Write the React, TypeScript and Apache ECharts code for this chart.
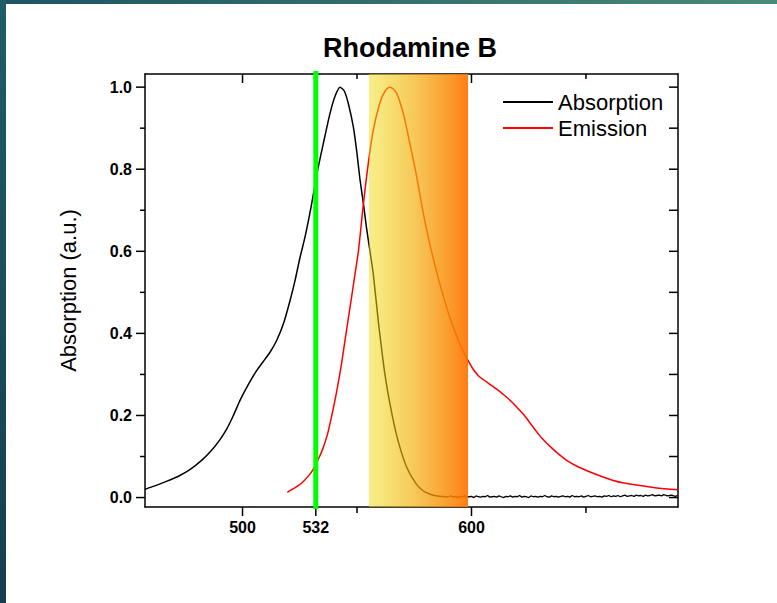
import React, { useEffect, useRef } from "react";
import * as echarts from "echarts";

// Wavelength window (nm) and absorbance window (a.u.)
const X_MIN = 457.4;
const X_MAX = 690.2;
const Y_MIN = -0.023;
const Y_MAX = 1.032;

// Laser line and detection band (nm)
const laserLine = 532;
const bandStart = 555.2;
const bandEnd = 598.5;

// Axis ticks
const wavelengthLabels = [500, 532, 600];
const wavelengthMinor = [550, 650];
const absorbanceLabels = [0, 0.2, 0.4, 0.6, 0.8, 1.0];
const absorbanceMinor = [0.1, 0.3, 0.5, 0.7, 0.9];
const absorbanceAll = [0, 0.1, 0.2, 0.3, 0.4, 0.5, 0.6, 0.7, 0.8, 0.9, 1.0];

// Absorption spectrum: [nm, normalised absorbance]
const absorptionMain: [number, number][] = [
  [457.4, 0.02], [462, 0.029], [467, 0.04], [472, 0.052], [477, 0.068],
  [482, 0.09], [486, 0.112], [490, 0.14], [493, 0.166], [496, 0.2],
  [499, 0.238], [503, 0.28], [506, 0.308], [509, 0.331], [512, 0.354],
  [515, 0.384], [518, 0.426], [520.7, 0.479], [522.9, 0.528], [525.1, 0.585],
  [527.3, 0.635], [530, 0.71], [533, 0.803], [535.3, 0.863], [538.2, 0.936],
  [540.4, 0.978], [542.6, 1.0], [544.5, 0.99], [546.2, 0.96], [548.4, 0.903],
  [550, 0.838], [551.3, 0.775], [552.8, 0.716], [554.2, 0.655], [555.4, 0.61],
  [557.1, 0.545], [559.3, 0.43], [562.2, 0.3], [565.2, 0.205], [568, 0.137],
  [571.7, 0.074], [576, 0.032], [579, 0.016], [582, 0.008], [585, 0.004],
  [589, 0.002], [590, 0.002],
];

// Noisy baseline of the absorption spectrum, one reading per nm from 590 nm
const absorptionTailStart = 590;
const absorptionTail = [
  0.002, 0.004, 0.001, 0.003, 0.0, 0.003, 0.002, 0.004, 0.001, 0.002,
  0.003, 0.0, 0.004, 0.002, 0.001, 0.003, 0.002, 0.005, 0.001, 0.002,
  0.003, 0.001, 0.004, 0.002, 0.0, 0.003, 0.002, 0.004, 0.001, 0.003,
  0.002, 0.005, 0.001, 0.003, 0.002, 0.0, 0.004, 0.002, 0.003, 0.001,
  0.003, 0.002, 0.005, 0.002, 0.001, 0.004, 0.002, 0.003, 0.001, 0.003,
  0.004, 0.002, 0.003, 0.001, 0.005, 0.002, 0.003, 0.002, 0.004, 0.001,
  0.003, 0.005, 0.002, 0.003, 0.004, 0.002, 0.003, 0.001, 0.004, 0.003,
  0.005, 0.002, 0.004, 0.003, 0.005, 0.002, 0.004, 0.006, 0.003, 0.004,
  0.005, 0.003, 0.006, 0.004, 0.005, 0.003, 0.006, 0.004, 0.005, 0.007,
  0.004, 0.005, 0.006, 0.004, 0.007, 0.005, 0.004, 0.006, 0.005, 0.003, 0.005,
];

// Emission spectrum: [nm, normalised intensity]
const emission: [number, number][] = [
  [519.6, 0.013], [523, 0.024], [526, 0.036], [529, 0.054], [531, 0.07],
  [533, 0.092], [535, 0.118], [537, 0.152], [539, 0.2], [541, 0.255],
  [543, 0.318], [545, 0.392], [547, 0.465], [549, 0.54], [550.6, 0.6],
  [552.8, 0.716], [554.9, 0.813], [557.1, 0.895], [560, 0.962], [562.2, 0.99],
  [564.4, 1.0], [567.3, 0.985], [570.2, 0.936], [573.1, 0.862], [576.1, 0.781],
  [579, 0.691], [581.9, 0.615], [586.2, 0.52], [590.6, 0.438], [595, 0.373],
  [598.6, 0.333], [600.8, 0.312], [603, 0.297], [605.2, 0.287], [607.3, 0.279],
  [611, 0.264], [614.6, 0.248], [618, 0.231], [620.5, 0.216], [622.5, 0.204],
  [625, 0.186], [627.7, 0.166], [631, 0.143], [635, 0.121], [638.5, 0.104],
  [642.3, 0.088], [646.5, 0.075], [651, 0.064], [656, 0.053], [661.2, 0.043],
  [666, 0.036], [671.4, 0.031], [680.1, 0.024], [690.2, 0.019],
];

const FONT = 'Arial, "Liberation Sans", sans-serif';
const AXIS_COLOR = "#000";

export default function App() {
  const ref = useRef<HTMLDivElement>(null);

  useEffect(() => {
    if (!ref.current) return;
    const chart = echarts.init(ref.current, undefined, { renderer: "svg" });

    const tail: [number, number][] = absorptionTail.map(
      (v, i) => [absorptionTailStart + i, v] as [number, number]
    );

    const axisLine = { show: true, onZero: false, lineStyle: { color: AXIS_COLOR, width: 1.5 } };
    const baseX = {
      type: "value",
      min: X_MIN,
      max: X_MAX,
      splitLine: { show: false },
      axisTick: { show: false },
    };
    const baseY = {
      type: "value",
      min: Y_MIN,
      max: Y_MAX,
      splitLine: { show: false },
      axisTick: { show: false },
    };

    // Frame tick marks, placed through the axes' own scales
    const renderTicks = (params: any, api: any) => {
      const cs = params.coordSys;
      const top = cs.y;
      const bottom = cs.y + cs.height;
      const left = cs.x;
      const right = cs.x + cs.width;
      const style = { stroke: AXIS_COLOR, lineWidth: 1.5 };
      const children: any[] = [];
      const vTick = (v: number, y0: number, y1: number) => {
        const x = api.coord([v, 0])[0];
        children.push({ type: "line", shape: { x1: x, y1: y0, x2: x, y2: y1 }, style });
      };
      const hTick = (v: number, x0: number, x1: number) => {
        const y = api.coord([X_MIN, v])[1];
        children.push({ type: "line", shape: { x1: x0, y1: y, x2: x1, y2: y }, style });
      };
      wavelengthLabels.forEach((v) => {
        vTick(v, bottom, bottom + 9);
        vTick(v, top, top + 9);
      });
      wavelengthMinor.forEach((v) => {
        vTick(v, bottom, bottom + 6);
        vTick(v, top, top + 5);
      });
      absorbanceLabels.forEach((v) => hTick(v, left - 9, left));
      absorbanceMinor.forEach((v) => hTick(v, left - 5, left));
      absorbanceAll.forEach((v) => hTick(v, right - 9, right));
      return { type: "group", children };
    };

    const lineCommon = {
      type: "line",
      xAxisIndex: 0,
      yAxisIndex: 0,
      showSymbol: false,
      z: 2,
    };

    chart.setOption({
      animation: false,
      backgroundColor: "#fff",
      title: {
        text: "Rhodamine B",
        left: 405,
        textAlign: "center",
        top: 29,
        textStyle: { fontFamily: FONT, fontSize: 27, fontWeight: "bold", color: "#000" },
      },
      legend: {
        orient: "vertical",
        left: 503,
        top: 89,
        padding: 0,
        itemGap: 0,
        itemWidth: 50,
        itemHeight: 2,
        icon: "rect",
        selectedMode: false,
        data: ["Absorption", "Emission"],
        textStyle: { fontFamily: FONT, fontSize: 22, color: "#000", lineHeight: 26 },
      },
      grid: { left: 145, right: 99, top: 74, bottom: 96 },
      xAxis: [
        {
          ...baseX,
          position: "bottom",
          axisLine,
          axisLabel: {
            show: true,
            customValues: wavelengthLabels,
            margin: 12,
            color: "#000",
            fontFamily: FONT,
            fontSize: 16,
            fontWeight: "bold",
          },
        },
        {
          ...baseX,
          position: "top",
          axisLine,
          axisLabel: { show: false },
        },
      ],
      yAxis: [
        {
          ...baseY,
          position: "left",
          axisLine,
          axisLabel: {
            show: true,
            customValues: absorbanceLabels,
            formatter: (v: number) => v.toFixed(1),
            margin: 13,
            color: "#000",
            fontFamily: FONT,
            fontSize: 16,
            fontWeight: "bold",
          },
          name: "Absorption (a.u.)",
          nameLocation: "middle",
          nameGap: 66,
          nameTextStyle: { fontFamily: FONT, fontSize: 22, color: "#000" },
        },
        {
          ...baseY,
          position: "right",
          axisLine,
          axisLabel: { show: false },
        },
      ],
      series: [
        {
          ...lineCommon,
          name: "Absorption",
          data: absorptionMain,
          smooth: 0.2,
          color: "#000",
          lineStyle: { color: "#000", width: 1.5 },
          itemStyle: { color: "#000" },
        },
        {
          ...lineCommon,
          name: "Absorption",
          data: tail,
          color: "#000",
          lineStyle: { color: "#000", width: 1.3 },
          itemStyle: { color: "#000" },
        },
        {
          ...lineCommon,
          name: "Emission",
          data: emission,
          smooth: 0.3,
          color: "#ff0000",
          lineStyle: { color: "#ff0000", width: 1.5 },
          itemStyle: { color: "#ff0000" },
        },
        {
          // translucent detection band laid over the spectra
          name: "band",
          type: "custom",
          xAxisIndex: 0,
          yAxisIndex: 0,
          data: [[bandStart, bandEnd]],
          encode: { x: [0, 1] },
          z: 5,
          silent: true,
          renderItem: (params: any, api: any) => {
            const x0 = api.coord([api.value(0), 0])[0];
            const x1 = api.coord([api.value(1), 0])[0];
            const cs = params.coordSys;
            return {
              type: "rect",
              shape: { x: x0, y: cs.y, width: x1 - x0, height: cs.height },
              style: {
                fill: new echarts.graphic.LinearGradient(0, 0, 1, 0, [
                  { offset: 0, color: "rgba(240,222,20,0.5)" },
                  { offset: 0.5, color: "rgba(242,170,10,0.7)" },
                  { offset: 1, color: "rgba(255,114,0,0.92)" },
                ]),
              },
            };
          },
        },
        {
          name: "ticks",
          type: "custom",
          xAxisIndex: 0,
          yAxisIndex: 0,
          data: [[X_MIN, 0]],
          encode: { x: 0, y: 1 },
          clip: false,
          z: 7,
          silent: true,
          renderItem: renderTicks,
        },
        {
          // 532 nm excitation line
          name: "laser",
          type: "custom",
          xAxisIndex: 0,
          yAxisIndex: 0,
          data: [[laserLine]],
          encode: { x: 0 },
          clip: false,
          z: 8,
          silent: true,
          renderItem: (params: any, api: any) => {
            const x = api.coord([api.value(0), 0])[0];
            const cs = params.coordSys;
            return {
              type: "rect",
              shape: { x: x - 2.5, y: cs.y - 3, width: 5, height: cs.height + 5 },
              style: { fill: "#00ff00" },
            };
          },
        },
      ],
      graphic: [
        {
          type: "rect",
          left: 0,
          top: 0,
          shape: { width: 777, height: 4 },
          style: {
            fill: new echarts.graphic.LinearGradient(0, 0, 1, 0, [
              { offset: 0, color: "#1d5563" },
              { offset: 1, color: "#4a8a78" },
            ]),
          },
          z: 100,
        },
        {
          type: "rect",
          left: 0,
          top: 0,
          shape: { width: 6, height: 603 },
          style: {
            fill: new echarts.graphic.LinearGradient(0, 0, 0, 1, [
              { offset: 0, color: "#1f5c68" },
              { offset: 1, color: "#153e4e" },
            ]),
          },
          z: 100,
        },
      ],
    });

    return () => chart.dispose();
  }, []);

  return (
    <div
      ref={ref}
      style={{ position: "absolute", left: 0, top: 0, width: 777, height: 603 }}
    />
  );
}
